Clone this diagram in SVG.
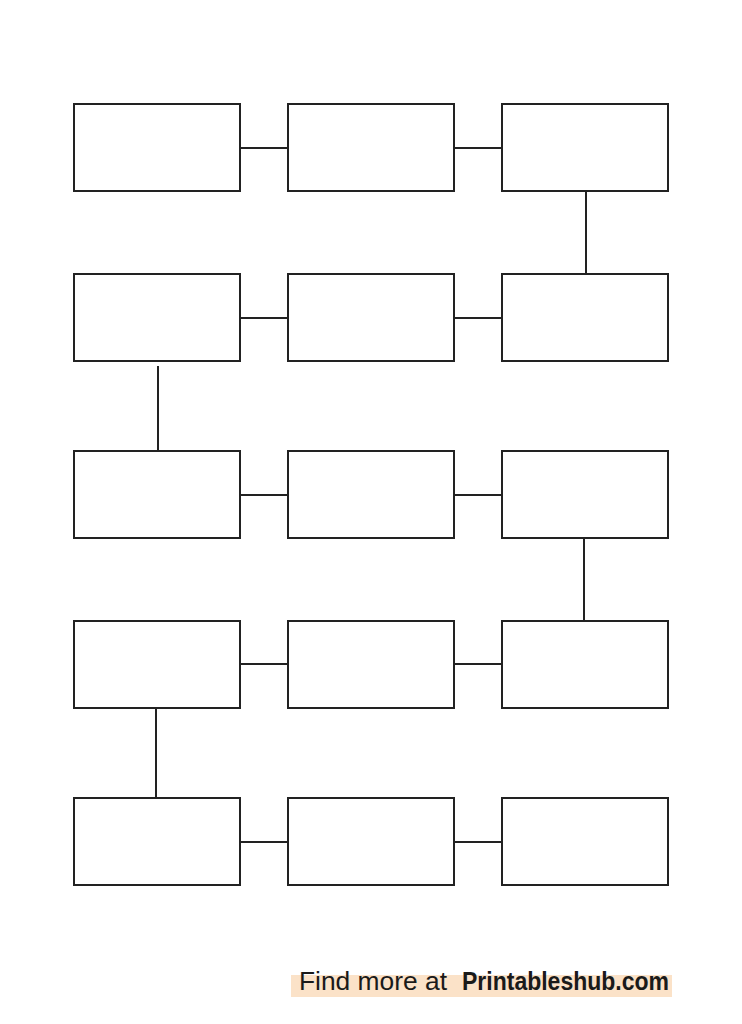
<svg xmlns="http://www.w3.org/2000/svg" width="742" height="1024" viewBox="0 0 742 1024">
<style>
.box{fill:#fff;stroke:#222;stroke-width:2}
.con{stroke:#222;stroke-width:2;fill:none}
.ft{font-family:"Liberation Sans",Arial,sans-serif;font-size:25px;fill:#1a1a1a}
</style>
<rect width="742" height="1024" fill="#fff"/>
<g id="connectors">
<line class="con" x1="240" y1="148" x2="288" y2="148"/>
<line class="con" x1="454" y1="148" x2="502" y2="148"/>
<line class="con" x1="586" y1="191" x2="586" y2="274"/>
<line class="con" x1="240" y1="318" x2="288" y2="318"/>
<line class="con" x1="454" y1="318" x2="502" y2="318"/>
<line class="con" x1="158" y1="366" x2="158" y2="451"/>
<line class="con" x1="240" y1="495" x2="288" y2="495"/>
<line class="con" x1="454" y1="495" x2="502" y2="495"/>
<line class="con" x1="584" y1="538" x2="584" y2="621"/>
<line class="con" x1="240" y1="664" x2="288" y2="664"/>
<line class="con" x1="454" y1="664" x2="502" y2="664"/>
<line class="con" x1="156" y1="708" x2="156" y2="798"/>
<line class="con" x1="240" y1="842" x2="288" y2="842"/>
<line class="con" x1="454" y1="842" x2="502" y2="842"/>
</g>
<g id="n1"><rect class="box" x="74" y="104" width="166" height="87"/></g>
<g id="n2"><rect class="box" x="288" y="104" width="166" height="87"/></g>
<g id="n3"><rect class="box" x="502" y="104" width="166" height="87"/></g>
<g id="n4"><rect class="box" x="74" y="274" width="166" height="87"/></g>
<g id="n5"><rect class="box" x="288" y="274" width="166" height="87"/></g>
<g id="n6"><rect class="box" x="502" y="274" width="166" height="87"/></g>
<g id="n7"><rect class="box" x="74" y="451" width="166" height="87"/></g>
<g id="n8"><rect class="box" x="288" y="451" width="166" height="87"/></g>
<g id="n9"><rect class="box" x="502" y="451" width="166" height="87"/></g>
<g id="n10"><rect class="box" x="74" y="621" width="166" height="87"/></g>
<g id="n11"><rect class="box" x="288" y="621" width="166" height="87"/></g>
<g id="n12"><rect class="box" x="502" y="621" width="166" height="87"/></g>
<g id="n13"><rect class="box" x="74" y="798" width="166" height="87"/></g>
<g id="n14"><rect class="box" x="288" y="798" width="166" height="87"/></g>
<g id="n15"><rect class="box" x="502" y="798" width="166" height="87"/></g>
<g id="footer">
<rect x="291" y="975" width="381" height="22" fill="#fbe2c8"/>
<text class="ft" x="299" y="990" textLength="148" lengthAdjust="spacingAndGlyphs">Find more at</text>
<text class="ft" x="462" y="990" font-size="24" font-weight="bold" textLength="207" lengthAdjust="spacingAndGlyphs">Printableshub.com</text>
</g>
</svg>
